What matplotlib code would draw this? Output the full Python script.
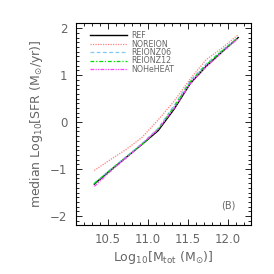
import matplotlib
matplotlib.use("Agg")
import matplotlib.pyplot as plt
from matplotlib.ticker import MultipleLocator

mass = [10.33, 10.53, 10.73, 10.93, 11.13, 11.33, 11.53, 11.73, 11.93, 12.13]
ref = [-1.32, -1.03, -0.75, -0.47, -0.18, 0.28, 0.82, 1.19, 1.50, 1.80]
noreion = [-1.03, -0.80, -0.58, -0.32, 0.05, 0.45, 0.92, 1.33, 1.58, 1.86]
reionz06 = [-1.30, -1.01, -0.73, -0.45, -0.13, 0.36, 0.88, 1.24, 1.53, 1.80]
reionz12 = [-1.31, -1.02, -0.75, -0.47, -0.15, 0.33, 0.86, 1.22, 1.52, 1.80]
noheheat = [-1.37, -1.05, -0.76, -0.46, -0.15, 0.30, 0.82, 1.18, 1.49, 1.78]
labels = ["REF", "NOREION", "REIONZ06", "REIONZ12", "NOHeHEAT"]

txt = "#666666"
fig = plt.figure(figsize=(2.74, 2.74), dpi=100)
ax = fig.add_axes([0.277, 0.179, 0.639, 0.737])

ax.plot(mass, ref, color="black", lw=1.0, ls="-", label=labels[0])
ax.plot(mass, noreion, color="#ff8080", lw=0.9, ls=(0, (1, 1)), label=labels[1])
ax.plot(mass, reionz06, color="#80c8f0", lw=0.9, ls=(0, (3, 2)), label=labels[2])
ax.plot(mass, reionz12, color="#00e000", lw=0.9, ls=(0, (3, 1.5, 1, 1.5)), label=labels[3])
ax.plot(mass, noheheat, color="#ff40ff", lw=0.9, ls=(0, (3, 1, 1, 1, 1, 1)), label=labels[4])

ax.set_xlim(10.1, 12.29)
ax.set_ylim(-2.19, 2.11)
ax.xaxis.set_minor_locator(MultipleLocator(0.1))
ax.yaxis.set_minor_locator(MultipleLocator(0.1))
ax.set_xticks([10.5, 11.0, 11.5, 12.0])
ax.set_xticklabels(["10.5", "11.0", "11.5", "12.0"])
ax.set_yticks([-2, -1, 0, 1, 2])
ax.set_yticklabels(["\u22122", "\u22121", "0", "1", "2"])
ax.tick_params(which="both", direction="in", top=True, right=True,
               labelsize=8.5, labelcolor=txt, width=0.6)
ax.tick_params(which="major", length=4, pad=6)
ax.tick_params(which="minor", length=2)
for s in ax.spines.values():
    s.set_linewidth(0.8)

ax.set_xlabel(r"Log$_{10}$[M$_{\rm tot}$ (M$_{\odot}$)]", fontsize=9, color=txt, labelpad=2)
ax.set_ylabel(r"median Log$_{10}$[SFR (M$_{\odot}$/yr)]", fontsize=9, color=txt, labelpad=4)

leg = ax.legend(loc="upper left", bbox_to_anchor=(0.065, 0.975), frameon=False,
                fontsize=5.7, handlelength=4.6, handletextpad=0.5,
                labelspacing=-0.08, borderaxespad=0)
for t in leg.get_texts():
    t.set_color(txt)

ax.text(0.87, 0.074, "(B)", transform=ax.transAxes, fontsize=7, color=txt,
        ha="center", va="bottom")

fig.savefig("out.png", dpi=100)
